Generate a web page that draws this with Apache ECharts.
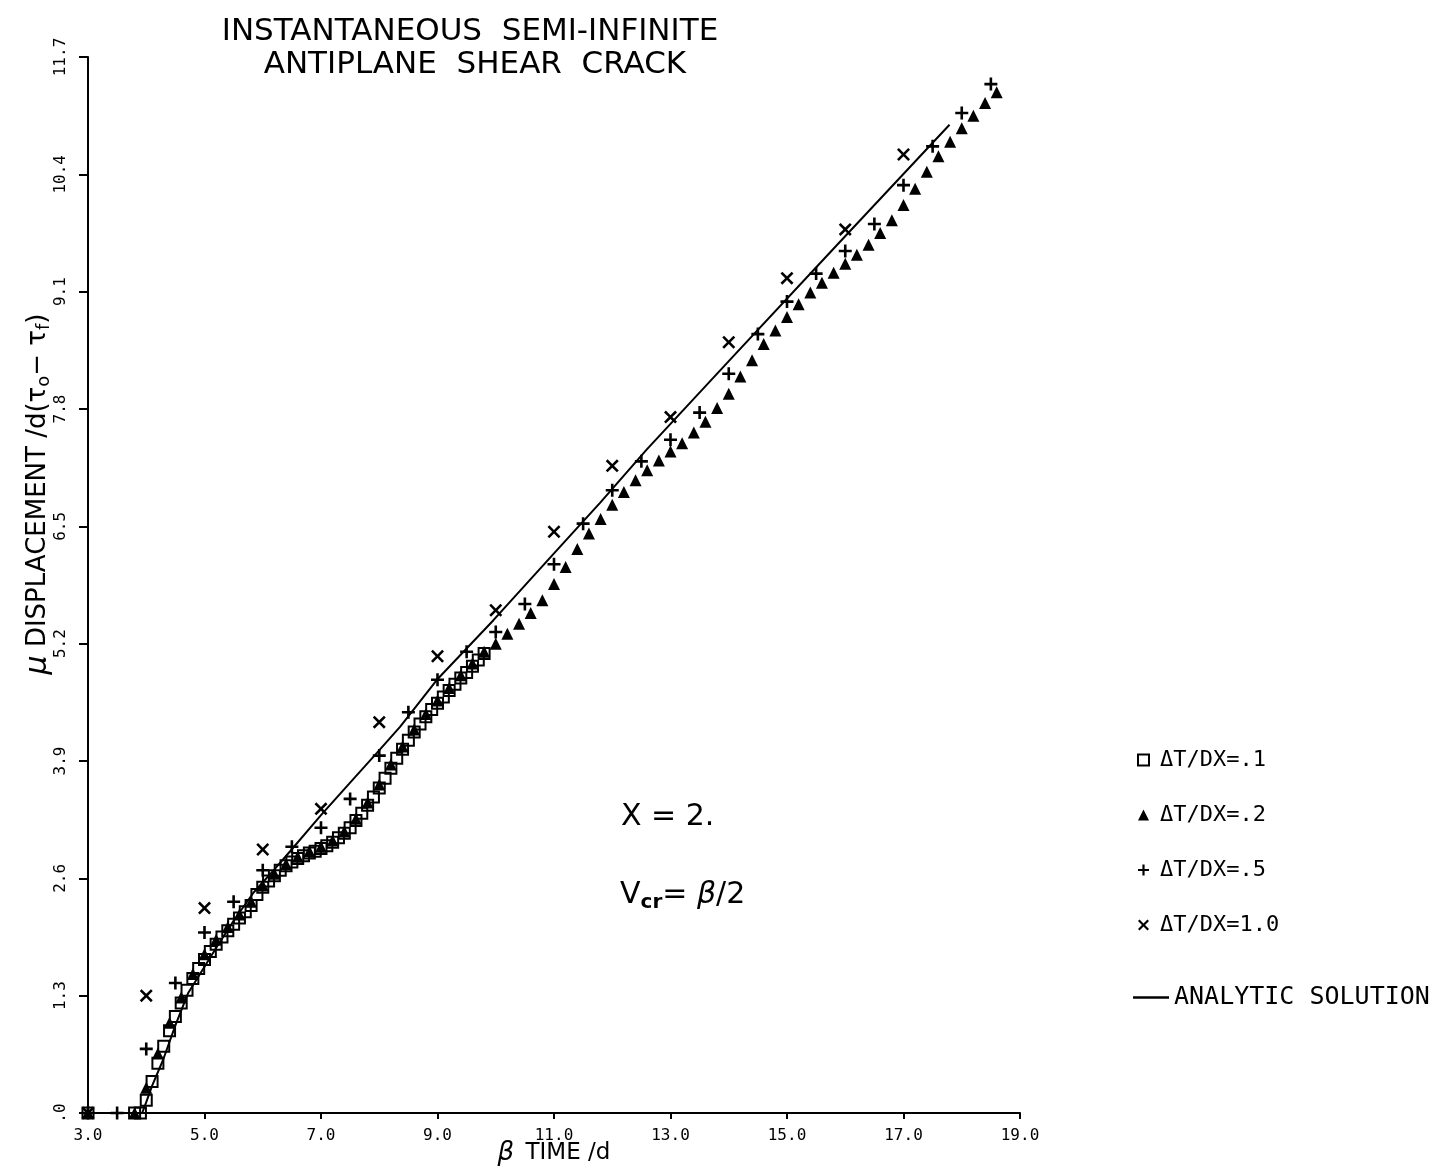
<!DOCTYPE html>
<html>
<head>
<meta charset="utf-8">
<script src="https://cdn.jsdelivr.net/npm/echarts/dist/echarts.min.js"></script>
<style>
html,body{margin:0;padding:0;background:#fff;}
#main{width:1451px;height:1169px;}
</style>
</head>
<body>
<div id="main"></div>
<script>
// beta*time/d for each run, and the displacement
const timeDt1 = [3.0, 3.8, 3.9, 4.0, 4.1, 4.2, 4.3, 4.4, 4.5, 4.6, 4.7, 4.8, 4.9, 5.0, 5.1, 5.2, 5.3, 5.4, 5.5, 5.6, 5.7, 5.8, 5.9, 6.0,
  6.1, 6.2, 6.3, 6.4, 6.5, 6.6, 6.7, 6.8, 6.9, 7.0, 7.1, 7.2, 7.3, 7.4, 7.5, 7.6, 7.7, 7.8, 7.9, 8.0,
  8.1, 8.2, 8.3, 8.4, 8.5, 8.6, 8.7, 8.8, 8.9, 9.0, 9.1, 9.2, 9.3, 9.4, 9.5, 9.6, 9.7, 9.8];
const dispDt1 = [0, 0, 0, 0.14, 0.35, 0.55, 0.74, 0.91, 1.07, 1.22, 1.36, 1.49, 1.60, 1.70, 1.79, 1.87, 1.95, 2.02, 2.09, 2.16, 2.23, 2.30, 2.42, 2.50,
  2.57, 2.63, 2.69, 2.74, 2.78, 2.82, 2.85, 2.88, 2.90, 2.93, 2.96, 3.00, 3.05, 3.10, 3.16, 3.24, 3.32, 3.41, 3.50, 3.60,
  3.71, 3.82, 3.93, 4.03, 4.13, 4.22, 4.31, 4.39, 4.47, 4.54, 4.61, 4.68, 4.75, 4.82, 4.88, 4.95, 5.02, 5.09];

const timeDt2 = [3.0, 3.8, 4.0, 4.2, 4.4, 4.6, 4.8, 5.0, 5.2, 5.4, 5.6, 5.8, 6.0, 6.2, 6.4, 6.6, 6.8, 7.0, 7.2, 7.4, 7.6, 7.8,
  8.0, 8.2, 8.4, 8.6, 8.8, 9.0, 9.2, 9.4, 9.6, 9.8, 10.0, 10.2, 10.4, 10.6, 10.8, 11.0, 11.2, 11.4, 11.6, 11.8,
  12.0, 12.2, 12.4, 12.6, 12.8, 13.0, 13.2, 13.4, 13.6, 13.8, 14.0, 14.2, 14.4, 14.6, 14.8, 15.0, 15.2, 15.4, 15.6, 15.8,
  16.0, 16.2, 16.4, 16.6, 16.8, 17.0, 17.2, 17.4, 17.6, 17.8, 18.0, 18.2, 18.4, 18.6];
const dispDt2 = [0, 0, 0.28, 0.66, 1.00, 1.28, 1.54, 1.76, 1.92, 2.06, 2.20, 2.34, 2.52, 2.65, 2.76, 2.84, 2.90, 2.95, 3.02, 3.12, 3.26, 3.44,
  3.64, 3.86, 4.06, 4.25, 4.42, 4.57, 4.71, 4.85, 4.98, 5.11, 5.20, 5.31, 5.42, 5.54, 5.68, 5.86, 6.05, 6.25, 6.42, 6.58,
  6.74, 6.88, 7.01, 7.12, 7.23, 7.33, 7.42, 7.54, 7.66, 7.81, 7.97, 8.16, 8.34, 8.52, 8.67, 8.82, 8.96, 9.09, 9.20, 9.31,
  9.41, 9.51, 9.62, 9.75, 9.89, 10.06, 10.24, 10.43, 10.60, 10.76, 10.91, 11.05, 11.19, 11.31];

const timeDt5 = [3.0, 3.5, 4.0, 4.5, 5.0, 5.5, 6.0, 6.5, 7.0, 7.5, 8.0, 8.5, 9.0, 9.5, 10.0, 10.5,
  11.0, 11.5, 12.0, 12.5, 13.0, 13.5, 14.0, 14.5, 15.0, 15.5, 16.0, 16.5, 17.0, 17.5, 18.0, 18.5];
const dispDt5 = [0, 0, 0.71, 1.44, 2.00, 2.34, 2.69, 2.95, 3.16, 3.48, 3.96, 4.44, 4.80, 5.11, 5.33, 5.64,
  6.08, 6.53, 6.90, 7.22, 7.46, 7.76, 8.19, 8.63, 8.99, 9.30, 9.55, 9.85, 10.28, 10.71, 11.08, 11.40];

const timeDt10 = [3.0, 4.0, 5.0, 6.0, 7.0, 8.0, 9.0, 10.0, 11.0, 12.0, 13.0, 14.0, 15.0, 16.0, 17.0];
const dispDt10 = [0, 1.30, 2.27, 2.92, 3.37, 4.33, 5.06, 5.57, 6.44, 7.17, 7.71, 8.54, 9.25, 9.79, 10.62];

const timeExact = [3.0, 3.93, 4.0, 4.1, 4.29, 4.5, 4.72, 5.0, 5.21, 5.5, 5.84, 6.2, 6.47, 7.0, 7.5, 7.96,
  8.36, 8.99, 9.96, 11.0, 11.79, 12.59, 14.0, 15.79, 17.79];
const dispExact = [0, 0, 0.12, 0.30, 0.59, 0.97, 1.33, 1.62, 1.84, 2.13, 2.44, 2.70, 2.90, 3.30, 3.66, 3.99,
  4.28, 4.80, 5.46, 6.20, 6.76, 7.35, 8.33, 9.57, 10.95];

const seriesNames = ['\u0394T/DX=.1', '\u0394T/DX=.2', '\u0394T/DX=.5', '\u0394T/DX=1.0', 'ANALYTIC SOLUTION'];
const xTicks = { min: 3, max: 19, step: 2 };
const yTicks = { min: 0, max: 11.7, step: 1.3 };

const zip = (xs, ys) => xs.map((x, i) => [x, ys[i]]);
const plusPath = 'path://M4,0L6,0L6,4L10,4L10,6L6,6L6,10L4,10L4,6L0,6L0,4L4,4Z';
const crossPath = 'path://M0,1.4L1.4,0L5,3.6L8.6,0L10,1.4L6.4,5L10,8.6L8.6,10L5,6.4L1.4,10L0,8.6L3.6,5Z';
const mono = 'DejaVu Sans Mono';
const sans = 'DejaVu Sans';

const chart = echarts.init(document.getElementById('main'));

const option = {
  backgroundColor: '#fff',
  animation: false,
  title: {
    text: 'INSTANTANEOUS  SEMI-INFINITE\n ANTIPLANE  SHEAR  CRACK',
    left: 465,
    top: 10,
    textAlign: 'center',
    textStyle: { fontFamily: sans, fontSize: 31, fontWeight: 'normal', color: '#000', lineHeight: 33 }
  },
  grid: { left: 88, right: 431, top: 57, bottom: 56, outerBoundsMode: 'none', containLabel: false },
  legend: [
    {
      data: seriesNames.slice(0, 4),
      orient: 'vertical',
      left: 1132,
      top: 744,
      itemWidth: 11,
      itemHeight: 11,
      itemGap: 33,
      textStyle: { fontFamily: mono, fontSize: 22, color: '#000', padding: [0, 0, 0, 6] }
    },
    {
      data: [{ name: seriesNames[4], icon: 'rect' }],
      left: 1128,
      top: 980,
      itemWidth: 36,
      itemHeight: 2.5,
      textStyle: { fontFamily: mono, fontSize: 25, color: '#000' }
    }
  ],
  xAxis: {
    type: 'value',
    min: xTicks.min,
    max: xTicks.max,
    interval: xTicks.step,
    name: '{b|\u03b2} TIME /d',
    nameLocation: 'middle',
    nameGap: 27,
    nameMoveOverlap: false,
    nameTextStyle: {
      fontFamily: sans, fontSize: 23, color: '#000',
      rich: { b: { fontFamily: sans, fontSize: 26, fontStyle: 'italic', color: '#000', padding: [0, 4, 0, 0] } }
    },
    axisLine: { lineStyle: { color: '#000', width: 2 } },
    axisTick: { show: true, length: 6, lineStyle: { color: '#000', width: 2 } },
    axisLabel: {
      fontFamily: mono, fontSize: 16, color: '#000', margin: 15,
      formatter: v => v.toFixed(1)
    },
    splitLine: { show: false }
  },
  yAxis: {
    type: 'value',
    min: yTicks.min,
    max: yTicks.max,
    interval: yTicks.step,
    axisLine: { show: true, lineStyle: { color: '#000', width: 2 } },
    axisTick: { show: true, length: 9, lineStyle: { color: '#000', width: 2 } },
    axisLabel: {
      fontFamily: mono, fontSize: 16, color: '#000', rotate: 90, margin: 19,
      formatter: v => (Math.abs(v) < 1e-9 ? '.0' : v.toFixed(1))
    },
    splitLine: { show: false }
  },
  graphic: [
    {
      // y axis title, placed by hand since it sits above the axis middle
      type: 'text', x: 38, y: 494, rotation: Math.PI / 2,
      style: {
        text: '{m|\u03bc} DISPLACEMENT /d(\u03c4{s|o}\u2212 \u03c4{s|f})',
        fontFamily: sans, fontSize: 26, fill: '#000',
        align: 'center', verticalAlign: 'middle',
        rich: {
          m: { fontFamily: sans, fontSize: 30, fontStyle: 'italic', fill: '#000' },
          s: { fontFamily: sans, fontSize: 18, fill: '#000', padding: [12, 0, 0, 0] }
        }
      }
    },
    {
      type: 'text', left: 621, top: 802,
      style: { text: 'X = 2.', font: '30px "DejaVu Sans"', fill: '#000' }
    },
    {
      type: 'text', left: 620, top: 880,
      style: {
        text: '{v|V}{s|cr}{v|= }{b|\u03b2}{v|/2}',
        fill: '#000',
        rich: {
          v: { fontFamily: sans, fontSize: 30, fill: '#000' },
          s: { fontFamily: sans, fontSize: 20, fill: '#000', fontWeight: 'bold', padding: [16, 0, 0, 0] },
          b: { fontFamily: sans, fontSize: 30, fontStyle: 'italic', fill: '#000' }
        }
      }
    }
  ],
  series: [
    {
      name: seriesNames[4],
      type: 'line',
      data: zip(timeExact, dispExact),
      showSymbol: false,
      symbol: 'none',
      lineStyle: { color: '#000', width: 2 },
      itemStyle: { color: '#000' },
      z: 2
    },
    {
      name: seriesNames[0],
      type: 'scatter',
      data: zip(timeDt1, dispDt1),
      symbol: 'rect',
      symbolSize: 11,
      itemStyle: { color: 'rgba(255,255,255,0)', borderColor: '#000', borderWidth: 2, opacity: 1 },
      z: 3
    },
    {
      name: seriesNames[1],
      type: 'scatter',
      data: zip(timeDt2, dispDt2),
      symbol: 'triangle',
      symbolSize: 12,
      itemStyle: { color: '#000', opacity: 1 },
      z: 4
    },
    {
      name: seriesNames[2],
      type: 'scatter',
      data: zip(timeDt5, dispDt5),
      symbol: plusPath,
      symbolSize: 13,
      itemStyle: { color: '#000', opacity: 1 },
      z: 5
    },
    {
      name: seriesNames[3],
      type: 'scatter',
      data: zip(timeDt10, dispDt10),
      symbol: crossPath,
      symbolSize: 13,
      itemStyle: { color: '#000', opacity: 1 },
      z: 5
    }
  ]
};

chart.setOption(option);
</script>
</body>
</html>
